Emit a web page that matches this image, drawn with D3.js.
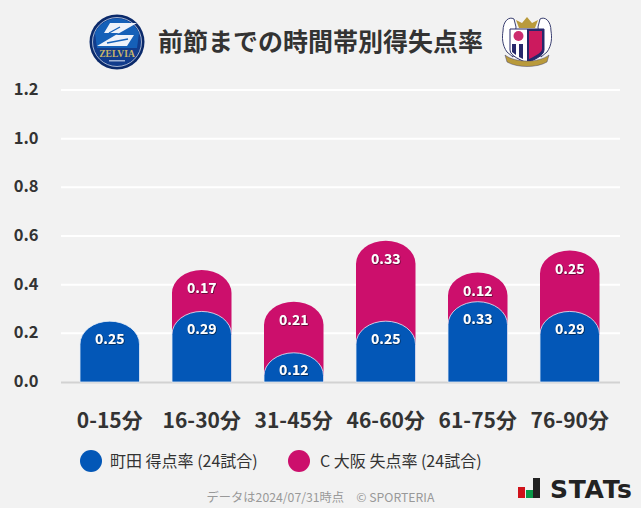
<!DOCTYPE html>
<html><head><meta charset="utf-8">
<script src="https://cdn.jsdelivr.net/npm/d3@7"></script>
<style>html,body{margin:0;padding:0;background:#f2f2f2}svg{display:block}text{font-family:"Noto Sans CJK JP","Noto Sans",sans-serif}</style>
</head><body><svg id="c" width="641" height="508"></svg>
<script>
const categories=["0-15分","16-30分","31-45分","46-60分","61-75分","76-90分"];
const scored=[0.25,0.29,0.12,0.25,0.33,0.29];
const conceded=[null,0.17,0.21,0.33,0.12,0.25];
const yTicks=[0,0.2,0.4,0.6,0.8,1.0,1.2];
const legendLabels=["町田 得点率 (24試合)","C 大阪 失点率 (24試合)"];
const titleText="前節までの時間帯別得失点率";
const footerText="データは2024/07/31時点　© SPORTERIA";
const blue="#0357b7",red="#cc0f6c";
const svg=d3.select("#c");
const y=d3.scaleLinear().domain([0,1.2]).range([382,90]);
const bw=59.5,step=92;
const xs=d3.scalePoint().domain(categories).range([80+bw/2,80+bw/2+step*5]);
const defs=svg.append("defs");
const f=defs.append("filter").attr("id","ts").attr("x","-20%").attr("y","-20%").attr("width","140%").attr("height","140%");
f.append("feDropShadow").attr("dx",0.6).attr("dy",0.6).attr("stdDeviation",0.3).attr("flood-color","#000").attr("flood-opacity",0.8);
svg.append("g").selectAll("line").data(yTicks.filter(d=>d>0)).join("line")
 .attr("x1",61).attr("x2",620).attr("y1",d=>y(d)).attr("y2",d=>y(d)).attr("stroke","#fff").attr("stroke-width",2);
svg.append("line").attr("x1",61).attr("x2",620).attr("y1",y(0)+.5).attr("y2",y(0)+.5).attr("stroke","#d2d2d2").attr("stroke-width",2);
svg.append("g").selectAll("text").data(yTicks).join("text")
 .attr("x",38.5).attr("y",d=>y(d)-1).attr("dy","0.36em").attr("text-anchor","end")
 .attr("font-size",16.5).attr("font-weight",700).attr("fill","#333").text(d=>d.toFixed(1));
svg.append("g").selectAll("text").data(categories).join("text")
 .attr("x",d=>xs(d)).attr("y",428).attr("text-anchor","middle")
 .attr("font-size",21).attr("font-weight",700).attr("fill","#333").text(d=>d);
function barPath(cat,v){
 const l=xs(cat)-bw/2,r=l+bw,t=y(v),b=y(0),rx=bw/2,ry=Math.min(23,b-t);
 return `M${l},${b}V${t+ry}A${rx},${ry} 0 0 1 ${r},${t+ry}V${b}Z`;
}
const rows=categories.map((c,i)=>({c,s:scored[i],k:conceded[i]}));
svg.append("g").selectAll("path").data(rows.filter(d=>d.k!=null)).join("path")
 .attr("d",d=>barPath(d.c,d.s+d.k)).attr("fill",red);
svg.append("g").selectAll("path").data(rows).join("path")
 .attr("d",d=>barPath(d.c,d.s)).attr("fill",blue).attr("stroke","#e6eef8").attr("stroke-width",0.8);
const lab=(sel,val,pos)=>sel.join("text").attr("x",d=>xs(d.c)).attr("y",pos).attr("dy","0.36em")
 .attr("text-anchor","middle").attr("font-size",14).attr("font-weight",700).attr("fill","#fff").attr("filter","url(#ts)").text(val);
lab(svg.append("g").selectAll("text").data(rows),d=>d.s.toFixed(2),d=>y(d.s)+17.5);
lab(svg.append("g").selectAll("text").data(rows.filter(d=>d.k!=null)),d=>d.k.toFixed(2),d=>y(d.s+d.k)+18);
svg.append("text").attr("x",320.5).attr("y",51).attr("text-anchor","middle").attr("font-size",25).attr("font-weight",700).attr("fill","#333").text(titleText);
const lg=[{cx:91,tx:110,col:blue},{cx:299,tx:320,col:red}];
svg.append("g").selectAll("circle").data(lg).join("circle").attr("cx",d=>d.cx).attr("cy",461).attr("r",11).attr("fill",d=>d.col);
svg.append("g").selectAll("text").data(lg).join("text").attr("x",d=>d.tx).attr("y",466.5).attr("font-size",16).attr("fill","#333").text((d,i)=>legendLabels[i]);
svg.append("text").attr("x",320.5).attr("y",502).attr("text-anchor","middle").attr("font-size",12.25).attr("fill","#999").text(footerText);
// STATs logo
const sl=svg.append("g");
sl.append("rect").attr("x",518).attr("y",487).attr("width",7).attr("height",11).attr("fill","#d0121b");
sl.append("rect").attr("x",526).attr("y",490).attr("width",7).attr("height",8).attr("fill","#0a9a4a");
sl.append("rect").attr("x",533).attr("y",478).attr("width",7).attr("height",20).attr("fill","#222");
sl.append("text").attr("x",550).attr("y",497.5).attr("font-size",25).attr("font-weight",700).attr("fill","#222").attr("textLength",82).attr("lengthAdjust","spacing").style("font-family","'DejaVu Sans'").text("STATs");
// Machida crest
const m=svg.append("g").attr("transform","translate(117,42)");
m.append("circle").attr("r",27.5).attr("fill","#0b2a6b");
m.append("circle").attr("r",24.5).attr("fill","#123c8c").attr("stroke","#c9d3e4").attr("stroke-width",.8);
m.append("path").attr("d","M-22,-9A24,24 0 0 1 22,-9L20,6H-20Z").attr("fill","#1560b8");
m.append("path").attr("d","M-7,-19H20L-1,-7H17L10,4H-20L2,-9L-13,-9Z").attr("fill","#eef2fa");
m.append("path").attr("d","M3,-15L-8,-9M11,-3L-10,1").attr("stroke","#1560b8").attr("stroke-width",1.4);
m.append("text").attr("y",15).attr("text-anchor","middle").attr("font-size",9.5).attr("font-weight",700).attr("fill","#c9b56a").style("font-family","'Liberation Serif'").text("ZELVIA");
m.append("rect").attr("x",-8).attr("y",18).attr("width",16).attr("height",1.5).attr("fill","#9fb2d4");
// Cerezo crest
const k=svg.append("g").attr("transform","translate(527,41)");
k.append("path").attr("d","M-24,-10C-24,-20,-18,-25,-13,-22L-11,-14L-14,16L-20,11C-25,4,-25,-4,-24,-10ZM24,-10C24,-20,18,-25,13,-22L11,-14L14,16L20,11C25,4,25,-4,24,-10Z").attr("fill","#fff").attr("stroke","#3a3f70").attr("stroke-width",1);
k.append("path").attr("d","M-8,-13L-11,-21L-5,-18L0,-24L5,-18L11,-21L8,-13Z").attr("fill","#b99a3b");
k.append("path").attr("d","M-17,-12H17V9C17,15,6,19,0,22C-6,19,-17,15,-17,9Z").attr("fill","#fff").attr("stroke","#26286b").attr("stroke-width",1);
k.append("path").attr("d","M0,-12H17V9C17,15,6,19,0,22Z").attr("fill","#26286b");
k.append("path").attr("d","M2,-10H15V8C15,12,6,16,2,18Z").attr("fill","#cc1a5e");
k.append("path").attr("d","M-15,3H-11V14L-15,11ZM-8,3H-4V18L-8,16Z").attr("fill","#26286b");
k.append("circle").attr("cx",-8.5).attr("cy",-5).attr("r",5).attr("fill","#cc2b6e");
k.append("path").attr("d","M-22,14C-12,22,12,22,22,14L20,21C10,27,-10,27,-20,21Z").attr("fill","#b99a3b").attr("stroke","#26286b").attr("stroke-width",.4);
</script></body></html>
